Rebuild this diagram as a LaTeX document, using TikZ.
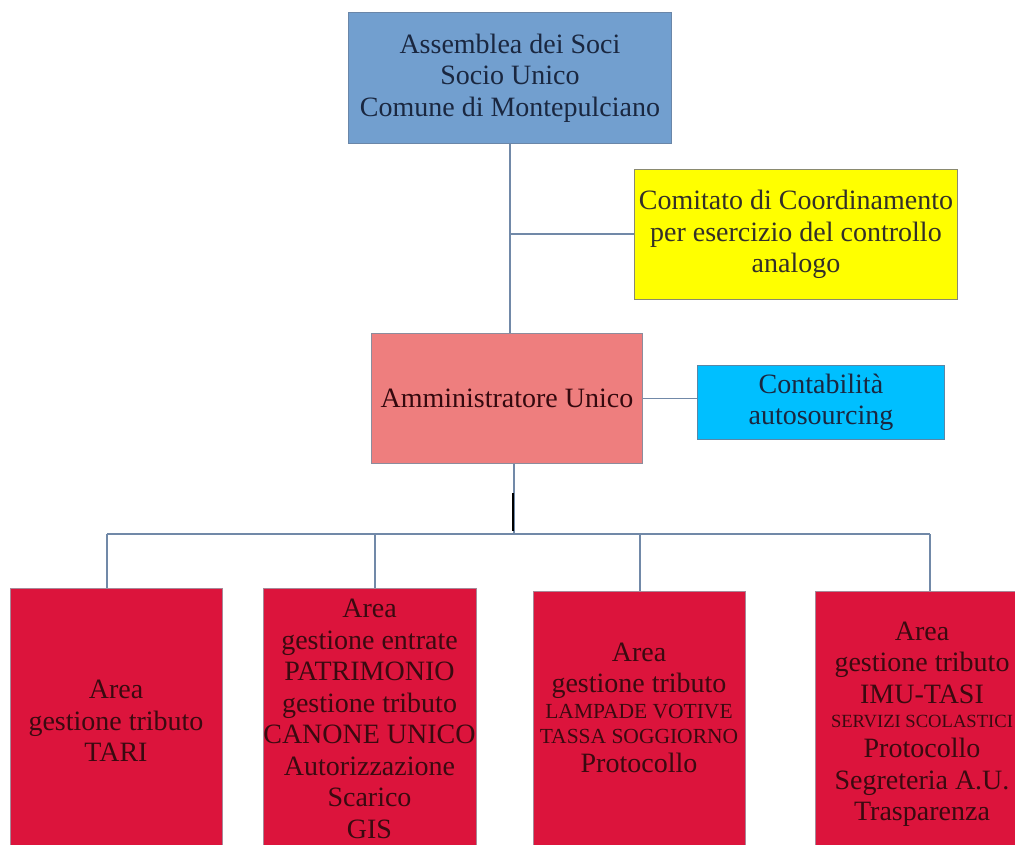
\documentclass[tikz,border=0pt]{standalone}
\usepackage{fontspec}
\setmainfont{Liberation Serif}
\definecolor{topblue}{HTML}{729FCF}
\definecolor{topborder}{HTML}{6A86A8}
\definecolor{navytext}{HTML}{1A2740}
\definecolor{yel}{HTML}{FFFF00}
\definecolor{yelborder}{HTML}{8A8A70}
\definecolor{coral}{HTML}{EE7E7E}
\definecolor{coralborder}{HTML}{8C8C9C}
\definecolor{sky}{HTML}{00BFFF}
\definecolor{skyborder}{HTML}{5A86A6}
\definecolor{crim}{HTML}{DC143C}
\definecolor{crimborder}{HTML}{A88898}
\definecolor{wire}{HTML}{7189A8}
\definecolor{darkred}{HTML}{3A0A10}
\newcommand{\smallcapsA}{\fontsize{21.5}{25}\selectfont}
\newcommand{\smallcapsB}{\fontsize{18.6}{25}\selectfont}
\begin{document}
\begin{tikzpicture}[x=1pt,y=-1pt,
  box/.style={rectangle, draw, line width=0.9pt, inner sep=0pt, align=center, anchor=north west},
  big/.style={font=\fontsize{28}{31.5}\selectfont},
  areabox/.style={box, fill=crim, draw=crimborder, minimum width=212pt, minimum height=264pt},
  areatext/.style={align=center, inner sep=0pt, text=darkred, font=\fontsize{28}{31.5}\selectfont},
  wireline/.style={draw=wire, line width=1.3pt}]
\clip (0,0) rectangle (1015,845);
\fill[white] (0,0) rectangle (1015,845);

\node[box, big, fill=topblue, draw=topborder, text=navytext, minimum width=323pt, minimum height=131pt] (soci) at (348,12)
  {Assemblea dei Soci\\Socio Unico\\Comune di Montepulciano};
\node[box, big, fill=yel, draw=yelborder, text=black!85!olive, minimum width=323pt, minimum height=130pt] (comitato) at (634,169)
  {Comitato di Coordinamento\\per esercizio del controllo\\analogo};
\node[box, big, fill=coral, draw=coralborder, text=darkred!90!black, minimum width=271pt, minimum height=130pt] (amm) at (371,333)
  {Amministratore Unico};
\node[box, big, fill=sky, draw=skyborder, text=navytext, minimum width=247pt, minimum height=74pt] (conta) at (697,365)
  {Contabilità\\autosourcing};

\node[areabox] (b1) at (10,588) {};
\node[areabox, minimum width=213pt] (b2) at (263,588) {};
\node[areabox] (b3) at (533,591) {};
\node[areabox] (b4) at (815,591) {};

\node[areatext] (t1) at (116,721) {Area\\gestione tributo\\TARI};
\node[areatext] (t2) at (369.5,719) {Area\\gestione entrate\\PATRIMONIO\\gestione tributo\\CANONE UNICO\\Autorizzazione\\Scarico\\GIS};
\node[areatext] (t3) at (639,708) {Area\\gestione tributo\\[-6pt]\smallcapsA LAMPADE VOTIVE\\[-6pt]\smallcapsA TASSA SOGGIORNO\\[-2.5pt]Protocollo};
\node[areatext] (t4) at (922,724) {Area\\gestione tributo\\IMU-TASI\\[-7pt]\smallcapsB SERVIZI SCOLASTICI\\[-1.5pt]Protocollo\\Segreteria A.U.\\Trasparenza};

\coordinate (c1) at (510,234);
\coordinate (j0) at (514,534);
\coordinate (jl) at (107,534);
\coordinate (jr) at (930,534);
\coordinate (k1) at (513,493);
\coordinate (k2) at (513,531);
\coordinate (d2) at (375,534);
\coordinate (d3) at (640,534);

\path[wireline] (soci.south -| c1) -- (amm.north -| c1);
\path[wireline] (c1) -- (comitato.west |- c1);
\path[wireline] (amm.east) -- (conta.west |- amm.east);
\path[wireline] (amm.south -| j0) -- (j0);
\draw[black, line width=2pt] (k1) -- (k2);
\path[wireline] (jl) -- (jr);
\path[wireline] (jl) -- (b1.north -| jl);
\path[wireline] (d2) -- (b2.north -| d2);
\path[wireline] (d3) -- (b3.north -| d3);
\path[wireline] (jr) -- (b4.north -| jr);
\end{tikzpicture}
\end{document}
